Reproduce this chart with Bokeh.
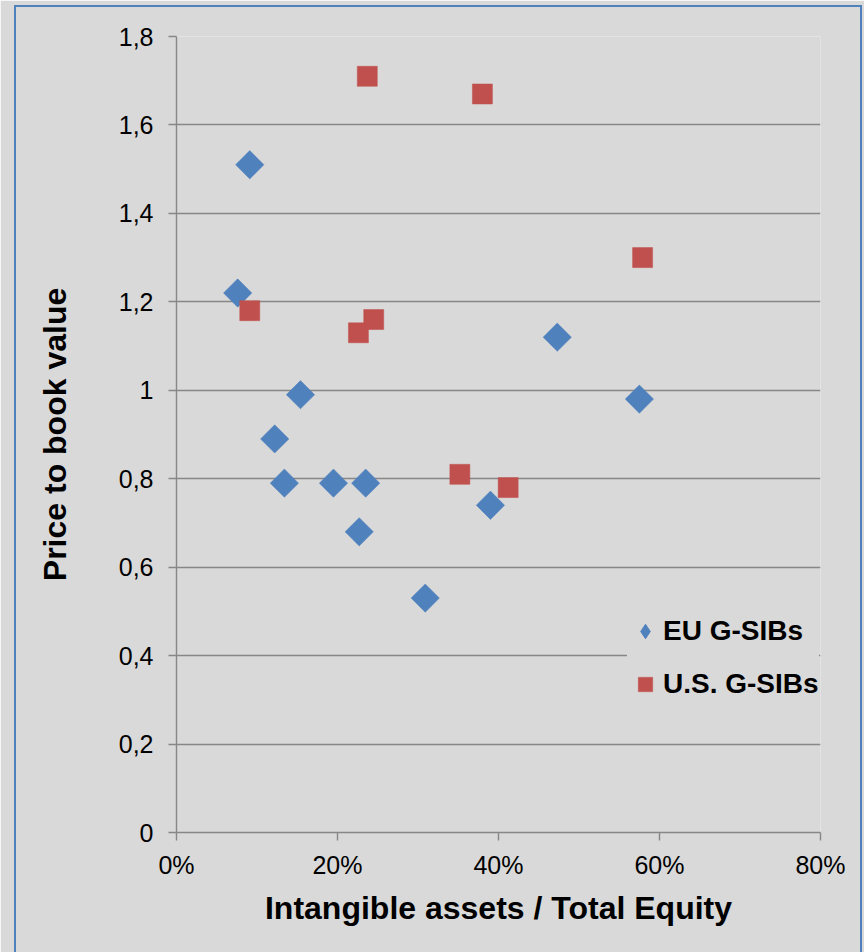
from bokeh.plotting import figure
from bokeh.models import FixedTicker, Range1d, Legend, LegendItem, InlineStyleSheet
from bokeh.embed import file_html
from bokeh.resources import INLINE
import math

# ---- data ----
eu_x = [9.1, 7.6, 15.4, 12.2, 13.4, 19.5, 23.5, 22.7, 30.9, 39.0, 47.3, 57.5]
eu_y = [1.51, 1.22, 0.99, 0.89, 0.79, 0.79, 0.79, 0.68, 0.53, 0.74, 1.12, 0.98]
us_x = [23.7, 38.0, 57.9, 9.1, 22.6, 24.5, 35.2, 41.2]
us_y = [1.71, 1.67, 1.30, 1.18, 1.13, 1.16, 0.81, 0.78]

x_ticks = [0, 20, 40, 60, 80]
x_tick_labels = ["0%", "20%", "40%", "60%", "80%"]
y_ticks = [0, 0.2, 0.4, 0.6, 0.8, 1, 1.2, 1.4, 1.6, 1.8]
y_tick_labels = ["0", "0,2", "0,4", "0,6", "0,8", "1", "1,2", "1,4", "1,6", "1,8"]

series_names = ["EU G-SIBs", "U.S. G-SIBs"]
x_title = "Intangible assets / Total Equity"
y_title = "Price to book value"

BG = "#d9d9d9"
GRID = "#878787"
BLUE = "#4f81bd"
RED = "#c0504d"
FONT = "Liberation Sans, Arial, sans-serif"

p = figure(width=864, height=952, output_backend="svg", toolbar_location=None,
           x_range=Range1d(0, 80), y_range=Range1d(0, 1.8),
           min_border_left=176, min_border_right=44, min_border_top=36, min_border_bottom=120)
p.background_fill_color = BG
p.border_fill_color = BG
p.outline_line_color = None

# grid
p.xgrid.grid_line_color = None
p.ygrid.grid_line_color = GRID
p.ygrid.grid_line_width = 1.4
p.ygrid.ticker = FixedTicker(ticks=y_ticks)

# axes
for ax in (p.xaxis[0], p.yaxis[0]):
    ax.axis_line_color = GRID
    ax.axis_line_width = 1.4
    ax.major_tick_line_color = GRID
    ax.major_tick_line_width = 1.4
    ax.major_tick_in = 0
    ax.major_tick_out = 8
    ax.minor_tick_line_color = None
    ax.major_label_text_font = FONT
    ax.major_label_text_font_size = "25px"
    ax.major_label_text_color = "black"
    ax.axis_label_text_font = FONT
    ax.axis_label_text_font_style = "bold"
    ax.axis_label_text_font_size = "32px"
    ax.axis_label_text_color = "black"

p.xaxis.ticker = FixedTicker(ticks=x_ticks)
p.xaxis.major_label_overrides = dict(zip(x_ticks, x_tick_labels))
p.xaxis.major_label_standoff = 10
p.xaxis.axis_label = x_title
p.xaxis.axis_label_standoff = 8

p.yaxis.ticker = FixedTicker(ticks=y_ticks)
p.yaxis.major_label_overrides = dict(zip(y_ticks, y_tick_labels))
p.yaxis.major_label_standoff = 15
p.yaxis.axis_label = y_title
p.yaxis.axis_label_standoff = 43

# markers (EU: squares turned 45 degrees = diamonds)
r_eu = p.scatter(eu_x, eu_y, marker="square", size=20, angle=math.pi / 4,
                 fill_color=BLUE, line_color=BLUE, line_width=0.5)
r_us = p.scatter(us_x, us_y, marker="square", size=20,
                 fill_color=RED, line_color=RED, line_width=0.5)
# hidden twin used only for the legend symbol (legend ignores marker angle)
r_eu_key = p.scatter(eu_x, eu_y, marker="diamond", size=20,
                     fill_color=BLUE, line_color=BLUE, visible=False)

legend = Legend(items=[LegendItem(label=series_names[0], renderers=[r_eu_key]),
                       LegendItem(label=series_names[1], renderers=[r_us])],
                location=(451, 126), background_fill_color=BG, background_fill_alpha=1,
                border_line_color=None, label_text_font=FONT, label_text_font_style="bold",
                label_text_font_size="28px", label_text_color="black",
                glyph_width=36, glyph_height=44,
                label_standoff=0, padding=0, spacing=9, margin=0)
p.add_layout(legend)

# outer blue frame drawn with CSS on the figure element
frame_css = """
:host { position: relative; }
:host::after {
  content: "";
  position: absolute;
  left: 14px; top: 5px; right: 2px; bottom: 0px;
  border: 2px solid #4f81bd;
  border-bottom: none;
  pointer-events: none;
  z-index: 10;
}
"""
p.stylesheets = [InlineStyleSheet(css=frame_css)]

open("out.html", "w").write(file_html(p, INLINE))
